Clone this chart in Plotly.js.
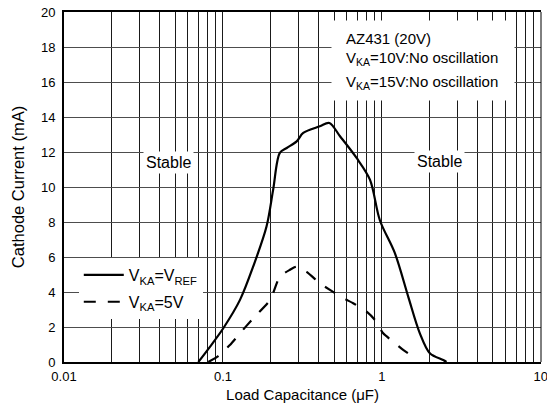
<!DOCTYPE html>
<html>
<head>
<meta charset="utf-8">
<script src="https://cdn.plot.ly/plotly-3.0.1.min.js"></script>
<style>
html, body { margin: 0; padding: 0; background: #fff; }
#chart { width: 547px; height: 418px; }
</style>
</head>
<body>
<div id="chart"></div>
<script>
// Solid curve: VKA = VREF
const capRef = [0.070, 0.0828, 0.1005, 0.128, 0.155, 0.188, 0.207, 0.228, 0.252, 0.291, 0.320, 0.407, 0.467, 0.545, 0.693, 0.841, 0.971, 1.207, 1.464, 1.733, 2.003, 2.43, 2.55];
const curRef = [0.0, 0.87, 1.93, 3.55, 5.46, 7.74, 9.85, 11.95, 12.23, 12.61, 13.09, 13.47, 13.66, 12.9, 11.66, 10.42, 8.1, 6.22, 3.74, 1.64, 0.5, 0.11, 0.0];
// Dashed curve: VKA = 5V
const cap5V = [0.0809, 0.0934, 0.1106, 0.128, 0.155, 0.198, 0.228, 0.264, 0.290, 0.336, 0.407, 0.471, 0.571, 0.660, 0.802, 0.904, 1.019, 1.178, 1.361, 1.573];
const cur5V = [0.0, 0.34, 0.97, 1.64, 2.5, 3.55, 4.88, 5.27, 5.45, 5.15, 4.5, 4.12, 3.65, 3.36, 2.88, 2.4, 1.64, 1.16, 0.69, 0.31];

const xTickVals = [0.01, 0.1, 1, 10];
const xTickText = ['0.01', '0.1', '1', '10'];
const yTickVals = [0, 2, 4, 6, 8, 10, 12, 14, 16, 18, 20];

const FONT = 'Arial, "Liberation Sans", sans-serif';
const TICK = { family: FONT, size: 13, color: '#000' };
const NOTE = { family: FONT, size: 15, color: '#000' };
const BIG = { family: FONT, size: 16, color: '#000' };

const traces = [
  {
    x: capRef, y: curRef, type: 'scatter', mode: 'lines',
    name: 'V<sub>KA</sub>=V<sub>REF</sub>', legendgroup: 'a',
    line: { color: '#000', width: 2.2, shape: 'spline', smoothing: 0.9 },
    hoverinfo: 'skip'
  },
  {
    x: cap5V, y: cur5V, type: 'scatter', mode: 'lines',
    name: 'V<sub>KA</sub>=5V', legendgroup: 'b',
    line: { color: '#000', width: 2.2, dash: '12px,12px', shape: 'spline', smoothing: 0.6 },
    hoverinfo: 'skip'
  }
];

const layout = {
  width: 547, height: 418,
  margin: { l: 64, r: 6, t: 12, b: 56 },
  paper_bgcolor: '#fff', plot_bgcolor: '#fff',
  font: TICK,
  showlegend: true,
  legend: {
    x: 0.031, y: 0.297, xanchor: 'left', yanchor: 'top',
    bgcolor: '#fff', borderwidth: 0,
    font: BIG,
    itemwidth: 40, tracegroupgap: 3
  },
  xaxis: {
    type: 'log', range: [-2, 1.001],
    tickmode: 'array', tickvals: xTickVals, ticktext: xTickText,
    ticks: '', showgrid: true, gridcolor: '#1a1a1a', gridwidth: 1,
    minor: { dtick: 'D1', showgrid: true, gridcolor: '#1a1a1a', gridwidth: 1, ticks: '' },
    showline: true, linecolor: '#000', linewidth: 2, mirror: true,
    zeroline: false, ticklabelstandoff: 1, ticklabeloverflow: 'allow',
    tickfont: TICK,
    title: { text: 'Load Capacitance (\u03bcF)', font: NOTE, standoff: 7 }
  },
  yaxis: {
    range: [0, 20], tickmode: 'array', tickvals: yTickVals,
    ticks: '', showgrid: true, gridcolor: '#4d4d4d', gridwidth: 1,
    showline: true, linecolor: '#000', linewidth: 2, mirror: false,
    zeroline: false, ticklabelstandoff: 4,
    tickfont: TICK,
    title: { text: 'Cathode Current (mA)', font: { family: FONT, size: 16.5, color: '#000' }, standoff: 12 }
  },
  shapes: [
    { type: 'line', xref: 'paper', yref: 'paper', x0: 1, x1: 1, y0: 0, y1: 1,
      line: { color: '#000', width: 1 }, layer: 'above' }
  ],
  annotations: [
    { xref: 'paper', yref: 'paper', x: 0.753, y: 0.861, xanchor: 'center', yanchor: 'middle',
      text: ' ', showarrow: false, width: 180, height: 77, bgcolor: '#fff', font: TICK },
    { xref: 'paper', yref: 'paper', x: 0.22, y: 0.571, xanchor: 'center', yanchor: 'middle',
      text: 'Stable', showarrow: false, font: BIG, bgcolor: '#fff', borderpad: 2 },
    { xref: 'paper', yref: 'paper', x: 0.788, y: 0.574, xanchor: 'center', yanchor: 'middle',
      text: 'Stable', showarrow: false, font: BIG, bgcolor: '#fff', borderpad: 2 },
    { xref: 'paper', yref: 'paper', x: 0.587, y: 0.924, xanchor: 'left', yanchor: 'middle',
      text: 'AZ431 (20V)', showarrow: false, font: NOTE },
    { xref: 'paper', yref: 'paper', x: 0.587, y: 0.866, xanchor: 'left', yanchor: 'middle',
      text: 'V<sub>KA</sub>=10V:No oscillation', showarrow: false, font: NOTE },
    { xref: 'paper', yref: 'paper', x: 0.587, y: 0.798, xanchor: 'left', yanchor: 'middle',
      text: 'V<sub>KA</sub>=15V:No oscillation', showarrow: false, font: NOTE }
  ]
};

Plotly.newPlot('chart', traces, layout, { staticPlot: true, displayModeBar: false });
</script>
</body>
</html>
